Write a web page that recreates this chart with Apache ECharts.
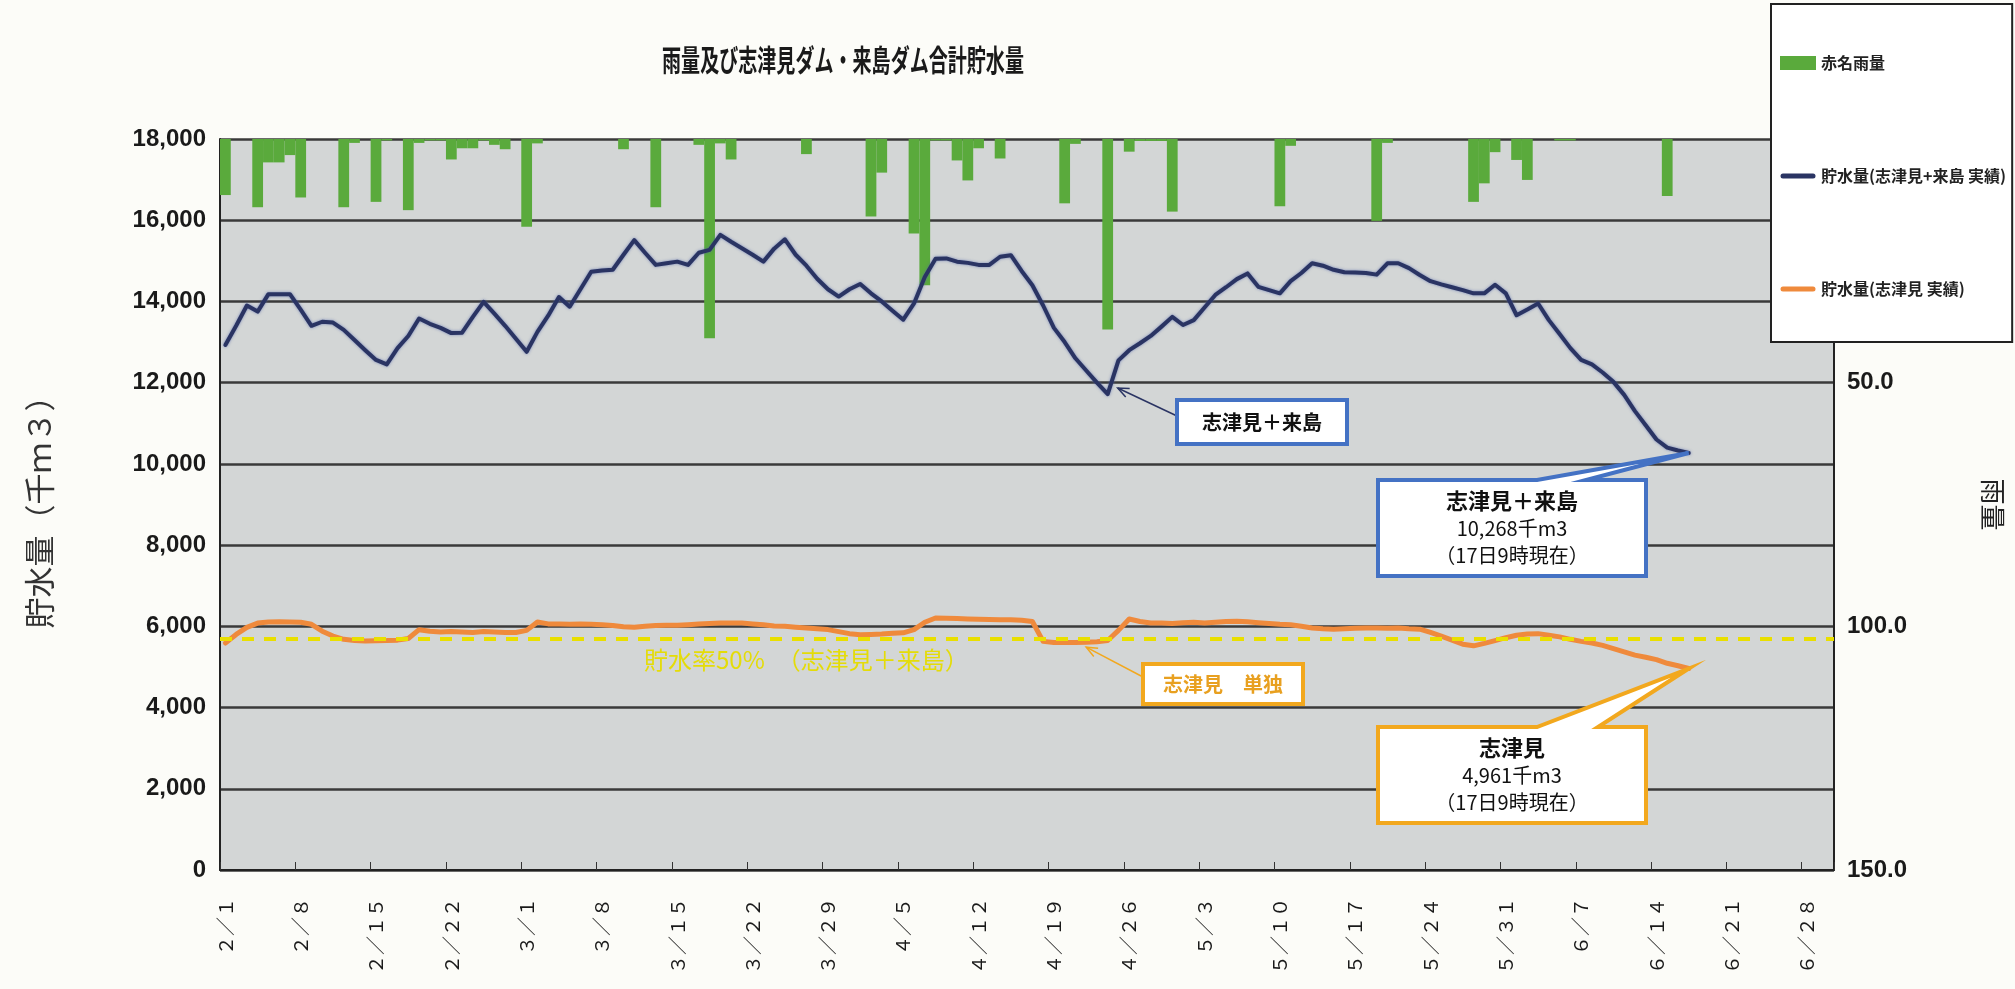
<!DOCTYPE html>
<html>
<head>
<meta charset="utf-8">
<script src="https://cdn.jsdelivr.net/npm/echarts@6/dist/echarts.min.js"></script>
<style>
  html, body { margin: 0; padding: 0; background: #fcfcf8; }
  #chart { width: 2015px; height: 989px; }
</style>
</head>
<body>
<div id="chart"></div>
<script>
// x axis: one category per day, 2/1 .. 6/30
const months = [[2, 28], [3, 31], [4, 30], [5, 31], [6, 30]];
const dates = [];
months.forEach(([m, n]) => { for (let d = 1; d <= n; d++) dates.push(m + '/' + d); });

// 赤名雨量 (mm), 2/1 .. 6/17
const rainfall = [
  11.5, 0, 0, 14.0, 4.8, 4.8, 3.3, 12.0, 0, 0,
  0, 14.0, 0.8, 0, 12.9, 0.3, 0, 14.6, 0.8, 0.3,
  0.3, 4.2, 1.9, 1.9, 0.3, 1.2, 2.1, 0, 18.0, 0.9,
  0, 0, 0, 0, 0, 0, 0, 2.1, 0, 0,
  14.0, 0, 0, 0, 1.2, 40.9, 0.9, 4.2, 0, 0,
  0, 0, 0, 0, 3.1, 0, 0, 0, 0, 0,
  15.9, 6.9, 0, 0, 19.4, 30.0, 0.3, 0.3, 4.4, 8.5,
  1.9, 0, 4.0, 0, 0, 0, 0, 0, 13.2, 1.0,
  0, 0, 39.1, 0, 2.6, 0.4, 0.4, 0.4, 14.9, 0,
  0, 0, 0, 0, 0, 0, 0, 0, 13.8, 1.4,
  0, 0, 0, 0, 0, 0, 0, 16.8, 0.8, 0,
  0, 0, 0, 0, 0, 0, 12.9, 9.1, 2.7, 0,
  4.3, 8.4, 0, 0, 0.3, 0.3, 0, 0, 0, 0,
  0, 0, 0, 0, 11.7, 0, 0
];

// 貯水量 志津見+来島 (千m3)
const totalStorage = [
  12930, 13400, 13900, 13750, 14180, 14180, 14180, 13800, 13400, 13500,
  13480, 13300, 13050, 12800, 12560, 12450, 12850, 13150, 13580, 13450,
  13350, 13220, 13230, 13620, 13990, 13700, 13400, 13080, 12760, 13250,
  13650, 14110, 13870, 14300, 14730, 14760, 14780, 15150, 15510, 15200,
  14900, 14940, 14980, 14900, 15200, 15270, 15640, 15470, 15310, 15150,
  14980, 15300, 15530, 15150, 14880, 14560, 14300, 14120, 14300, 14430,
  14200, 14000, 13770, 13550, 13950, 14600, 15050, 15060, 14980, 14950,
  14900, 14900, 15100, 15140, 14750, 14400, 13900, 13350, 13000, 12600,
  12300, 12000, 11720, 12550, 12800, 12970, 13150, 13380, 13620, 13420,
  13540, 13850, 14160, 14350, 14550, 14690, 14360, 14280, 14200, 14500,
  14700, 14940, 14880, 14780, 14720, 14710, 14700, 14660, 14940, 14940,
  14820, 14650, 14500, 14420, 14350, 14280, 14200, 14200, 14410, 14200,
  13660, 13800, 13950, 13540, 13200, 12850, 12560, 12450, 12250, 12020,
  11700, 11300, 10950, 10600, 10400, 10330, 10268
];

// 貯水量 志津見 単独 (千m3)
const shitsumiStorage = [
  5590, 5800, 5975, 6080, 6107, 6110, 6107, 6100, 6050, 5880,
  5760, 5680, 5650, 5640, 5646, 5650, 5660, 5700, 5918, 5880,
  5860, 5870, 5860, 5850, 5870, 5860, 5850, 5850, 5900, 6107,
  6060, 6058, 6050, 6060, 6050, 6040, 6020, 5990, 5975, 6000,
  6020, 6025, 6025, 6040, 6060, 6070, 6080, 6085, 6082, 6060,
  6040, 6010, 6000, 5980, 5960, 5940, 5920, 5870, 5820, 5795,
  5800, 5810, 5830, 5840, 5918, 6100, 6205, 6200, 6190, 6180,
  6175, 6170, 6165, 6160, 6150, 6120, 5630, 5600, 5600, 5600,
  5610, 5620, 5650, 5900, 6180, 6120, 6080, 6080, 6070, 6090,
  6100, 6080, 6100, 6120, 6125, 6110, 6090, 6070, 6050, 6040,
  6000, 5960, 5940, 5930, 5940, 5950, 5960, 5960, 5955, 5960,
  5940, 5930, 5850, 5760, 5660, 5560, 5520, 5580, 5650, 5720,
  5780, 5810, 5820, 5780, 5740, 5680, 5630, 5590, 5530, 5450,
  5370, 5290, 5240, 5180, 5090, 5030, 4961
];

const halfStorage = 5700;   // 貯水率50%
const halfLabelDay = '3/27';

const numFont = '"Liberation Sans Narrow", "Liberation Sans", sans-serif';
const jpFont = '"Noto Sans CJK JP", sans-serif';
const toWide = s => s.replace(/[0-9\/]/g, c => String.fromCharCode(c.charCodeAt(0) + 0xFEE0));
const lineIcon = 'path://M0,0M36,14M3,4.5L33,4.5A2.5,2.5,0,0,1,33,9.5L3,9.5A2.5,2.5,0,0,1,3,4.5Z';

const chart = echarts.init(document.getElementById('chart'));

const option = {
  backgroundColor: '#fcfcf8',
  animation: false,
  grid: {
    left: 220, right: 181, top: 139, bottom: 119,
    show: true, backgroundColor: '#d3d6d6', borderWidth: 0
  },
  legend: {
    orient: 'vertical',
    left: 1771, top: 4,
    padding: [48, 6, 42, 9],
    itemGap: 91,
    itemWidth: 36, itemHeight: 14,
    backgroundColor: '#ffffff',
    borderColor: '#222', borderWidth: 2,
    textStyle: { fontFamily: jpFont, fontSize: 16, fontWeight: 'bold', color: '#222', lineHeight: 22 },
    data: [
      { name: '赤名雨量', icon: 'rect' },
      { name: '貯水量(志津見+来島 実績)', icon: lineIcon },
      { name: '貯水量(志津見 実績)', icon: lineIcon }
    ]
  },
  xAxis: {
    type: 'category',
    data: dates,
    boundaryGap: true,
    axisLine: { lineStyle: { color: '#222', width: 2 } },
    axisTick: { show: true, inside: true, interval: 6, length: 8, lineStyle: { color: '#333' } },
    axisLabel: {
      interval: 6, rotate: 90, margin: 28,
      fontFamily: jpFont, fontSize: 19, color: '#1a1a1a',
      formatter: v => toWide(v)
    },
    splitLine: { show: false }
  },
  yAxis: [
    {
      type: 'value', min: 0, max: 18000, interval: 2000,
      name: '貯水量（千ｍ３）',
      nameLocation: 'middle', nameRotate: 90, nameGap: 165,
      nameTextStyle: { fontFamily: jpFont, fontSize: 31, color: '#333' },
      axisLine: { show: true, lineStyle: { color: '#222', width: 2 } },
      axisTick: { show: false },
      axisLabel: {
        margin: 14, fontFamily: numFont, fontSize: 24, fontWeight: 'bold', color: '#1a1a1a',
        formatter: v => v.toLocaleString('en-US')
      },
      splitLine: { lineStyle: { color: '#3a3a3a', width: 2.5 } }
    },
    {
      type: 'value', min: 0, max: 150, interval: 50, inverse: true,
      position: 'right',
      name: '雨量',
      nameLocation: 'middle', nameRotate: -90, nameGap: 146,
      nameTextStyle: { fontFamily: jpFont, fontSize: 26, color: '#222' },
      axisLine: { show: true, lineStyle: { color: '#222', width: 2 } },
      axisTick: { show: false },
      axisLabel: {
        margin: 13, fontFamily: numFont, fontSize: 24, fontWeight: 'bold', color: '#1a1a1a',
        formatter: v => (v === 0 ? '' : v.toFixed(1))
      },
      splitLine: { show: false }
    }
  ],
  series: [
    {
      name: '赤名雨量',
      type: 'bar',
      yAxisIndex: 1,
      data: rainfall,
      barCategoryGap: '0%',
      itemStyle: { color: '#5aaa3c' },
      z: 1
    },
    {
      name: '貯水量(志津見 実績)',
      type: 'line',
      data: shitsumiStorage,
      symbol: 'none',
      lineStyle: { color: '#ef8a3c', width: 5, cap: 'round', join: 'round' },
      itemStyle: { color: '#ef8a3c' },
      z: 3,
      markLine: {
        silent: true,
        symbol: 'none',
        label: { show: false },
        lineStyle: { color: '#e9df00', width: 4, type: [12, 10] },
        data: [{ yAxis: halfStorage }]
      },
      markPoint: {
        silent: true,
        symbol: 'circle', symbolSize: 0,
        data: [{
          coord: [halfLabelDay, halfStorage],
          label: {
            show: true, offset: [0, 21],
            formatter: '貯水率50%　（志津見＋来島）',
            fontFamily: jpFont, fontSize: 24, color: '#e4dc08'
          }
        }]
      }
    },
    {
      name: '貯水量(志津見+来島 実績)',
      type: 'line',
      data: totalStorage,
      symbol: 'none',
      lineStyle: {
        color: '#2a3463', width: 4, cap: 'round', join: 'round',
        shadowColor: 'rgba(80,100,170,0.7)', shadowBlur: 3
      },
      itemStyle: { color: '#2a3463' },
      z: 4
    }
  ]
};

chart.setOption(option);

// callouts, anchored to the last readings and to the trough points
const px = (i, v) => chart.convertToPixel({ xAxisIndex: 0, yAxisIndex: 0 }, [i, v]);
const last = totalStorage.length - 1;
const blueEnd = px(last, totalStorage[last]);
const orangeEnd = px(last, shitsumiStorage[last]);
const blueTip = px(82, totalStorage[82]);
const orangeTip = px(80, shitsumiStorage[80]);

const blue = '#4472c4';
const gold = '#f2a81e';

function bubble(x, y, w, h, b1, b2, tip, stroke) {
  return {
    type: 'polygon', z: 100,
    shape: { points: [[x, y], [b1, y], tip, [b2, y], [x + w, y], [x + w, y + h], [x, y + h]] },
    style: { fill: '#fff', stroke: stroke, lineWidth: 4, lineJoin: 'miter' }
  };
}
function arrow(from, to, color) {
  const ang = Math.atan2(from[1] - to[1], from[0] - to[0]);
  const a1 = [to[0] + 12 * Math.cos(ang + 0.4), to[1] + 12 * Math.sin(ang + 0.4)];
  const a2 = [to[0] + 12 * Math.cos(ang - 0.4), to[1] + 12 * Math.sin(ang - 0.4)];
  return [
    { type: 'line', z: 100, shape: { x1: from[0], y1: from[1], x2: to[0], y2: to[1] }, style: { stroke: color, lineWidth: 1.5 } },
    { type: 'polyline', z: 100, shape: { points: [a1, to, a2] }, style: { stroke: color, lineWidth: 1.5, fill: null } }
  ];
}
function txt(x, y, text, size, color, weight) {
  return {
    type: 'text', z: 101, x: x, y: y,
    style: { text: text, font: (weight || 'normal') + ' ' + size + 'px "Noto Sans CJK JP"', fill: color, textAlign: 'center', textVerticalAlign: 'middle' }
  };
}

const graphics = [
  {
    type: 'text', x: 843, y: 60, scaleX: 0.635, z: 101,
    style: { text: '雨量及び志津見ダム・来島ダム合計貯水量', font: 'bold 30px "Noto Sans CJK JP"', fill: '#1a1a1a', textAlign: 'center', textVerticalAlign: 'middle' }
  },
  // 志津見＋来島 (trough)
  ...arrow([1177, 416], [blueTip[0] + 10, blueTip[1] - 6], '#2a3463'),
  { type: 'rect', z: 100, shape: { x: 1177, y: 400, width: 170, height: 44 }, style: { fill: '#fff', stroke: blue, lineWidth: 4 } },
  txt(1262, 422, '志津見＋来島', 20, '#111', 'bold'),
  // 志津見＋来島 current value
  bubble(1378, 480, 268, 96, 1537, 1586, blueEnd, blue),
  txt(1512, 501, '志津見＋来島', 22, '#111', 'bold'),
  txt(1512, 528, '10,268千m3', 20, '#111'),
  txt(1512, 555, '（17日9時現在）', 20, '#111'),
  // 志津見 単独
  ...arrow([1143, 677], [orangeTip[0], orangeTip[1] + 5], gold),
  { type: 'rect', z: 100, shape: { x: 1143, y: 664, width: 160, height: 40 }, style: { fill: '#fff', stroke: gold, lineWidth: 4 } },
  txt(1223, 684, '志津見　単独', 20, '#e8a020', 'bold'),
  // 志津見 current value
  bubble(1378, 727, 268, 96, 1537, 1598, orangeEnd, gold),
  txt(1512, 748, '志津見', 22, '#111', 'bold'),
  txt(1512, 775, '4,961千m3', 20, '#111'),
  txt(1512, 802, '（17日9時現在）', 20, '#111')
];

chart.setOption({ graphic: graphics });
</script>
</body>
</html>
